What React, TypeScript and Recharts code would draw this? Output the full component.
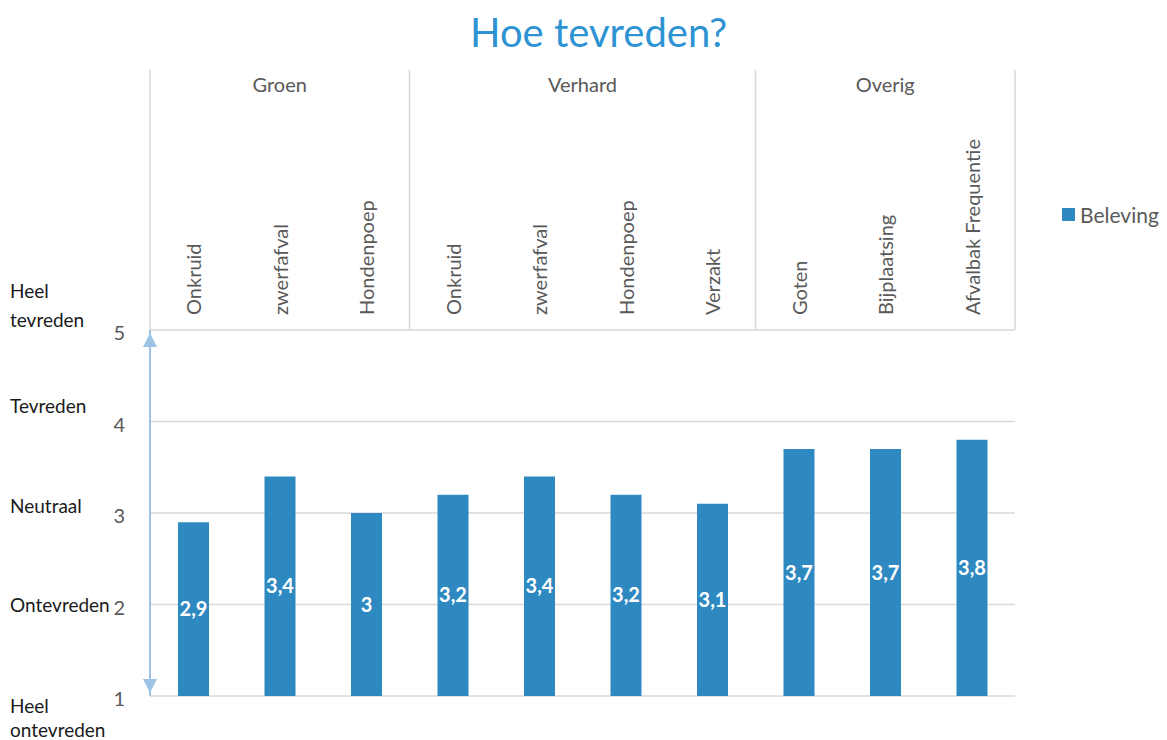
import React from "react";
import {
  ComposedChart,
  Bar,
  XAxis,
  YAxis,
  CartesianGrid,
  LabelList,
} from "recharts";

const CATEGORIES = [
  "Onkruid",
  "zwerfafval",
  "Hondenpoep",
  "Onkruid",
  "zwerfafval",
  "Hondenpoep",
  "Verzakt",
  "Goten",
  "Bijplaatsing",
  "Afvalbak Frequentie",
];
const GROUPS = ["Groen", "Verhard", "Overig"];
const GROUP_OF = [0, 0, 0, 1, 1, 1, 1, 2, 2, 2];
const BELEVING = [2.9, 3.4, 3, 3.2, 3.4, 3.2, 3.1, 3.7, 3.7, 3.8];
const Y_TICKS = [1, 2, 3, 4, 5];
const Y_LABELS = ["Heel\nontevreden", "Ontevreden", "Neutraal", "Tevreden", "Heel\ntevreden"];

const data = CATEGORIES.map((name, i) => ({
  key: `${GROUPS[GROUP_OF[i]]}-${name}`,
  name,
  beleving: BELEVING[i],
}));

const FONT = "Lato, 'Open Sans', sans-serif";
const BAR = "#2F89C1";
const GRID = "#d9d9d9";
const TEXT = "#595959";
const TOP = 70; // top of the category header lines

// dy of the descriptive label lines, per y tick (1..5)
const LABEL_DY: number[][] = [[9, 33], [0], [-8], [-16], [-40, -11]];

function CategoryTick(props: any) {
  const { x, y, index } = props;
  const band = (props.width || 865) / CATEGORIES.length;
  const g = GROUP_OF[index];
  const first = index === 0 || GROUP_OF[index - 1] !== g;
  const last = index === CATEGORIES.length - 1;
  const count = GROUP_OF.filter((v) => v === g).length;
  const bottom = y + 15;
  return (
    <g>
      {first && (
        <>
          <line x1={x - band / 2} x2={x - band / 2} y1={TOP} y2={bottom} stroke={GRID} strokeWidth={1.5} />
          <text
            x={x - band / 2 + (count * band) / 2}
            y={84}
            textAnchor="middle"
            dominantBaseline="central"
            fontSize={20}
            fill={TEXT}
            fontFamily={FONT}
          >
            {GROUPS[g]}
          </text>
        </>
      )}
      {last && (
        <line x1={x + band / 2} x2={x + band / 2} y1={TOP} y2={bottom} stroke={GRID} strokeWidth={1.5} />
      )}
      <text
        x={x}
        y={y}
        transform={`rotate(-90 ${x} ${y})`}
        textAnchor="start"
        dominantBaseline="central"
        fontSize={20}
        fill={TEXT}
        fontFamily={FONT}
      >
        {CATEGORIES[index]}
      </text>
    </g>
  );
}

function ValueTick(props: any) {
  const { x, y, payload, index } = props;
  const lines = Y_LABELS[index].split("\n");
  const dys = LABEL_DY[index];
  return (
    <g>
      <text x={x} y={y + 2} textAnchor="end" dominantBaseline="central" fontSize={20} fill={TEXT} fontFamily={FONT}>
        {payload.value}
      </text>
      {lines.map((l, i) => (
        <text key={i} x={10} y={y + dys[i]} dominantBaseline="central" fontSize={19} fill="#1a1a1a" fontFamily={FONT}>
          {l}
        </text>
      ))}
      {index === Y_TICKS.length - 1 && (
        <polygon points={`${x + 25},${y + 3} ${x + 18},${y + 17} ${x + 32},${y + 17}`} fill="#9DC3E6" />
      )}
      {index === 0 && (
        <polygon points={`${x + 25},${y - 3} ${x + 18},${y - 17} ${x + 32},${y - 17}`} fill="#9DC3E6" />
      )}
    </g>
  );
}

export default function App() {
  return (
    <div style={{ position: "absolute", left: 0, top: 0, width: 1167, height: 740, background: "#fff", fontFamily: FONT }}>
      <div
        style={{
          position: "absolute",
          left: 470,
          top: 8,
          fontSize: 40,
          color: "#2E93D3",
          whiteSpace: "nowrap",
        }}
      >
        Hoe tevreden?
      </div>
      <ComposedChart
        width={1167}
        height={740}
        data={data}
        margin={{ top: TOP, right: 152, bottom: 44, left: 0 }}
        barCategoryGap="0%"
      >
        <CartesianGrid horizontal vertical={false} stroke={GRID} strokeWidth={1.5} />
        <XAxis
          dataKey="key"
          xAxisId={0}
          orientation="top"
          height={260}
          interval={0}
          tickLine={false}
          axisLine={false}
          tickSize={6}
          tickMargin={9}
          tick={<CategoryTick />}
        />
        <YAxis
          domain={[1, 5]}
          ticks={Y_TICKS}
          width={150}
          tickLine={false}
          tickSize={6}
          tickMargin={19}
          axisLine={{ stroke: "#9DC3E6", strokeWidth: 2 }}
          tick={<ValueTick />}
          allowDataOverflow
        />
        <Bar dataKey="beleving" fill={BAR} barSize={31} isAnimationActive={false}>
          <LabelList
            dataKey="beleving"
            position="center"
            fill="#fff"
            fontWeight="bold"
            fontSize={20}
            fontFamily={FONT}
            formatter={(v: any) => String(v).replace(".", ",")}
          />
        </Bar>
      </ComposedChart>
      <div
        style={{
          position: "absolute",
          left: 1062,
          top: 202,
          display: "flex",
          alignItems: "center",
          gap: 5,
          fontSize: 21,
          color: TEXT,
        }}
      >
        <span style={{ display: "inline-block", width: 13, height: 13, background: BAR }} />
        Beleving
      </div>
    </div>
  );
}
